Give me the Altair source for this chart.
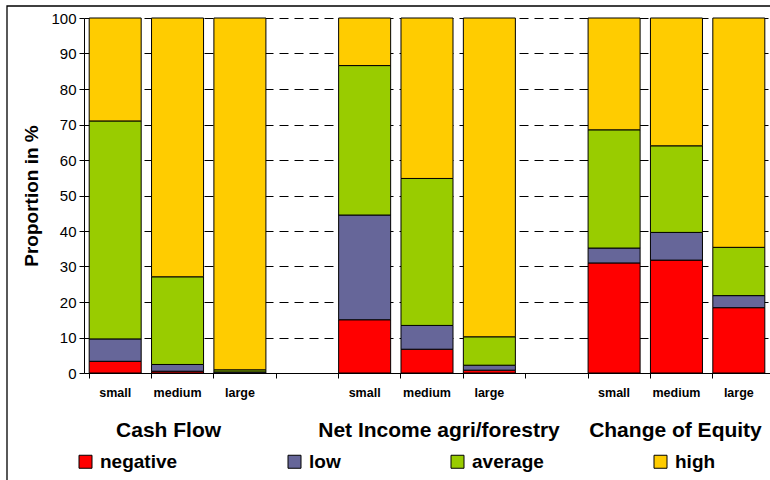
import altair as alt
import pandas as pd

group_keys = ["CF", "NI", "CE"]
group_names = ["Cash Flow", "Net Income agri/forestry", "Change of Equity"]
sizes = ["small", "medium", "large"]
classes = ["negative", "low", "average", "high"]
colors = ["#FF0000", "#666699", "#99CC00", "#FFCC00"]

# values per bar, order: CF small/medium/large, NI small/medium/large, CE small/medium/large
negative = [3.3, 0.5, 0.0, 15.0, 6.7, 0.8, 31.0, 31.8, 18.4]
low = [6.3, 1.9, 0.3, 29.5, 6.7, 1.4, 4.2, 7.8, 3.4]
average = [61.4, 24.7, 0.6, 42.1, 41.4, 8.0, 33.3, 24.4, 13.6]
high = [29.0, 72.9, 99.1, 13.4, 45.2, 89.8, 31.5, 36.0, 64.6]

slots = []
for i, g in enumerate(group_keys):
    slots += [f"{g}|{s}" for s in sizes]
    if i < len(group_keys) - 1:
        slots.append(f"gap{i}")

series = [negative, low, average, high]
rows = []
k = 0
for g in group_keys:
    for s in sizes:
        for r, (c, vals) in enumerate(zip(classes, series)):
            rows.append({"slot": f"{g}|{s}", "cls": c, "rank": r, "value": vals[k]})
        k += 1
df = pd.DataFrame(rows)

W = 686
H = 355

xscale = alt.Scale(domain=slots, paddingInner=0.166, paddingOuter=0.083)

bars = alt.Chart(df).mark_bar(stroke="black", strokeWidth=1).encode(
    x=alt.X(
        "slot:N",
        scale=xscale,
        sort=slots,
        axis=alt.Axis(
            title=None,
            bandPosition=0,
            labelExpr="indexof(datum.value,'|') > 0 ? split(datum.value,'|')[1] : ''",
            labelFontSize=12.5,
            labelFontWeight="bold",
            labelColor="black",
            labelPadding=8,
            labelAngle=0,
            tickSize=5,
            tickColor="black",
            domainColor="black",
            grid=False,
        ),
    ),
    y=alt.Y(
        "value:Q",
        stack="zero",
        scale=alt.Scale(domain=[0, 100], nice=False),
        axis=alt.Axis(
            values=list(range(0, 101, 10)),
            grid=True,
            gridDash=[9, 6],
            gridColor="black",
            gridWidth=1,
            domainColor="black",
            tickColor="black",
            tickSize=5,
            labelFontSize=15,
            labelColor="black",
            labelPadding=3,
            title="Proportion in %",
            titleFontSize=19,
            titleFontWeight="bold",
            titleColor="black",
            titlePadding=9,
        ),
    ),
    color=alt.Color(
        "cls:N",
        scale=alt.Scale(domain=classes, range=colors),
        legend=alt.Legend(
            title=None,
            orient="none",
            legendX=-8,
            legendY=434,
            direction="horizontal",
            columns=4,
            columnPadding=107,
            symbolType="square",
            symbolSize=169,
            symbolStrokeColor="black",
            symbolStrokeWidth=1,
            symbolOpacity=1,
            labelFontSize=19,
            labelFontWeight="bold",
            labelColor="black",
            labelOffset=5,
        ),
    ),
    order=alt.Order("rank:Q"),
)

def group_title(key, name, dx):
    d = pd.DataFrame({"slot": [f"{key}|medium"], "label": [name]})
    return alt.Chart(d).mark_text(
        fontSize=21, fontWeight="bold", color="black", baseline="alphabetic", dx=dx
    ).encode(x=alt.X("slot:N", scale=xscale, sort=slots), y=alt.value(419), text="label:N")

t1 = group_title(group_keys[0], group_names[0], -9)
t2 = group_title(group_keys[1], group_names[1], 12)
t3 = group_title(group_keys[2], group_names[2], -1)

frame = alt.Chart(pd.DataFrame({"a": [0]})).mark_rect(
    fill=None, stroke="black", strokeWidth=1.3
).encode(x=alt.value(-77), x2=alt.value(800), y=alt.value(-12), y2=alt.value(500))

chart = alt.layer(bars, t1, t2, t3, frame).properties(
    width=W,
    height=H,
    autosize=alt.AutoSizeParams(type="none"),
    padding={"left": 84, "top": 18, "right": 0, "bottom": 107},
).configure(font="Liberation Sans").configure_view(stroke=None)

chart.save("out.html", embed_options={"renderer": "svg", "actions": False})
